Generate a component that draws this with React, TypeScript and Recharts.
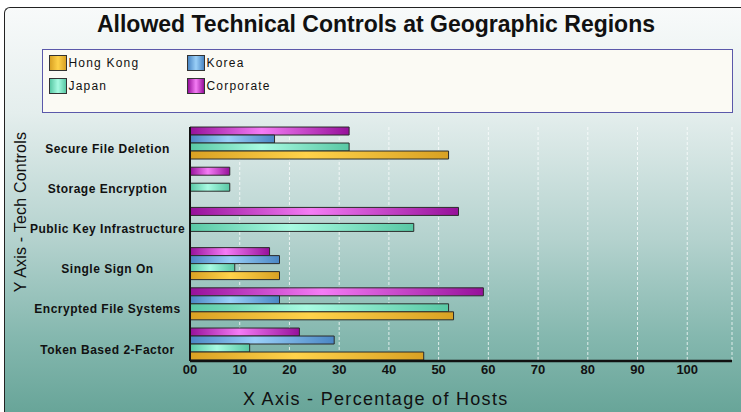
import { Bar, BarChart, CartesianGrid, XAxis, YAxis } from "recharts";

const categories = [
  "Secure File Deletion",
  "Storage Encryption",
  "Public Key Infrastructure",
  "Single Sign On",
  "Encrypted File Systems",
  "Token Based 2-Factor",
];
const hongKong = [52, null, null, 18, 53, 47];
const korea = [17, null, null, 18, 18, 29];
const japan = [32, 8, 45, 9, 52, 12];
const corporate = [32, 8, 54, 16, 59, 22];
const xTicks = [0, 10, 20, 30, 40, 50, 60, 70, 80, 90, 100];

const series = [
  { key: "hongKong", name: "Hong Kong", dark: "#d9a123", light: "#ffd24a" },
  { key: "korea", name: "Korea", dark: "#4a86c4", light: "#9ad0f8" },
  { key: "japan", name: "Japan", dark: "#58c8a4", light: "#a8fbe2" },
  { key: "corporate", name: "Corporate", dark: "#96109a", light: "#f57cf5" },
];
// bars are stacked top-to-bottom in this order inside each group
const barOrder = ["corporate", "korea", "japan", "hongKong"];

const data = categories.map((name, i) => ({
  name,
  hongKong: hongKong[i],
  korea: korea[i],
  japan: japan[i],
  corporate: corporate[i],
}));

const FONT = "'Liberation Sans', Arial, Helvetica, sans-serif";

// labels sit centred in the axis column, a little below the group centre
function CategoryTick({ y, payload }: any) {
  return (
    <text
      x={107.5}
      y={y}
      dy={9}
      textAnchor="middle"
      fontSize={12}
      fontWeight="bold"
      letterSpacing={0.5}
      fill="#111"
      fontFamily={FONT}
    >
      {payload.value}
    </text>
  );
}

export default function App() {
  return (
    <div
      style={{
        position: "absolute",
        left: 0,
        top: 0,
        width: 741,
        height: 412,
        overflow: "hidden",
        background: "#ffffff",
        fontFamily: FONT,
      }}
    >
      <div
        style={{
          position: "absolute",
          left: 4,
          top: 7,
          width: 760,
          height: 420,
          borderTop: "1.5px solid #222",
          borderLeft: "1.5px solid #222",
          borderTopLeftRadius: 6,
          background:
            "linear-gradient(to bottom, #f8fafa 0%, #e4eeed 25%, #b4d2ce 55%, #85b8af 78%, #62a194 100%)",
        }}
      />
      <div
        style={{
          position: "absolute",
          left: 0,
          top: 11,
          width: 752,
          textAlign: "center",
          fontSize: 23,
          fontWeight: "bold",
          color: "#111",
        }}
      >
        Allowed Technical Controls at Geographic Regions
      </div>

      <div
        style={{
          position: "absolute",
          left: 42,
          top: 49,
          width: 689,
          height: 62,
          border: "1.5px solid #5a58aa",
          background: "#fbfaf4",
        }}
      >
        {series.map((s, i) => (
          <div
            key={s.key}
            style={{
              position: "absolute",
              left: i % 2 === 0 ? 5.5 : 143.5,
              top: i < 2 ? 4.5 : 27.5,
              display: "flex",
              alignItems: "center",
              fontSize: 12,
              letterSpacing: 1.2,
              color: "#111",
            }}
          >
            <span
              style={{
                display: "inline-block",
                width: 16,
                height: 14,
                border: "1px solid #333",
                marginRight: 2,
                background: `linear-gradient(to right, ${s.dark}, ${s.light} 50%, ${s.dark})`,
              }}
            />
            {s.name}
          </div>
        ))}
      </div>

      <div
        style={{
          position: "absolute",
          left: 21,
          top: 212,
          transform: "translate(-50%, -50%) rotate(-90deg)",
          whiteSpace: "nowrap",
          fontSize: 16,
          letterSpacing: 0.2,
          color: "#111",
        }}
      >
        Y Axis - Tech Controls
      </div>
      <div
        style={{
          position: "absolute",
          left: 243,
          top: 389,
          whiteSpace: "nowrap",
          fontSize: 18,
          letterSpacing: 1.3,
          color: "#111",
        }}
      >
        X Axis - Percentage of Hosts
      </div>

      <div style={{ position: "absolute", left: 0, top: 0 }}>
        <BarChart
          width={741}
          height={412}
          data={data}
          layout="vertical"
          margin={{ top: 127, right: 9, bottom: 31, left: 10 }}
          barCategoryGap="9%"
          barGap={0}
        >
          <defs>
            {series.map((s) => (
              <linearGradient key={s.key} id={`g-${s.key}`} x1="0" y1="0" x2="1" y2="0">
                <stop offset="0%" stopColor={s.dark} />
                <stop offset="45%" stopColor={s.light} />
                <stop offset="100%" stopColor={s.dark} />
              </linearGradient>
            ))}
          </defs>
          <CartesianGrid
            horizontal={false}
            stroke="#ffffff"
            strokeOpacity={0.75}
            strokeDasharray="3 2"
          />
          <XAxis
            type="number"
            domain={[0, 109]}
            ticks={xTicks}
            tickFormatter={(v: number) => (v === 0 ? "00" : String(v))}
            tickLine={false}
            tickSize={3}
            tickMargin={1}
            height={20}
            axisLine={{ stroke: "#111", strokeWidth: 2.5 }}
            tick={{ fontSize: 13, fontWeight: "bold", fill: "#111", fontFamily: FONT }}
          />
          <YAxis
            type="category"
            dataKey="name"
            width={180}
            padding={{ top: -3.6, bottom: -3.6 }}
            tickLine={false}
            axisLine={{ stroke: "#111", strokeWidth: 2 }}
            tick={<CategoryTick />}
            interval={0}
          />
          {barOrder.map((k) => (
            <Bar
              key={k}
              dataKey={k}
              name={series.find((s) => s.key === k)!.name}
              fill={`url(#g-${k})`}
              stroke="#2b2b2b"
              strokeWidth={1}
              isAnimationActive={false}
            />
          ))}
        </BarChart>
      </div>
    </div>
  );
}
